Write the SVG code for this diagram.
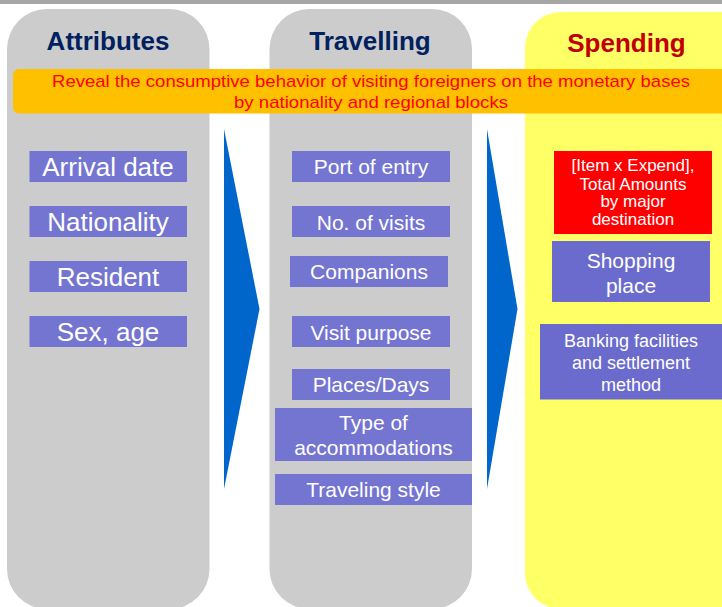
<svg xmlns="http://www.w3.org/2000/svg" width="722" height="607" viewBox="0 0 722 607">
<style>
.col{fill:#CCCCCC}
.title{font-family:"Liberation Sans",Arial,sans-serif;font-weight:bold;font-size:26px;text-anchor:middle}
.box{fill:#7474D1}
.box2{fill:#6B6BCD}
.t26{font-family:"Liberation Sans",Arial,sans-serif;font-size:26px;fill:#FFFFFF;text-anchor:middle}
.t21{font-family:"Liberation Sans",Arial,sans-serif;font-size:21px;fill:#FFFFFF;text-anchor:middle}
.t18{font-family:"Liberation Sans",Arial,sans-serif;font-size:18px;fill:#FFFFFF;text-anchor:middle}
.t17{font-family:"Liberation Sans",Arial,sans-serif;font-size:17px;fill:#FFFFFF;text-anchor:middle}
.arrow{fill:#0066CC}
</style>
<rect x="0" y="0" width="722" height="607" fill="#FFFFFF"/>
<rect x="0" y="0" width="722" height="4" fill="#A6A6A6"/>
<g id="col-attributes">
<rect class="col" x="7" y="9" width="202.5" height="600" rx="40" ry="40"/>
<text class="title" x="108" y="50" fill="#002060">Attributes</text>
</g>
<g id="col-travelling">
<rect class="col" x="269.5" y="9" width="202.5" height="600" rx="40" ry="40"/>
<text class="title" x="370" y="50" fill="#002060">Travelling</text>
</g>
<g id="col-spending">
<rect x="525" y="12" width="240" height="597" rx="36" ry="36" fill="#FFFF66"/>
<text class="title" x="626.5" y="52" fill="#C00000">Spending</text>
</g>
<g id="connectors">
<polygon class="arrow" points="224,129 259.5,309 224,489"/>
<polygon class="arrow" points="487,129 517.5,309 487,489"/>
</g>
<g id="banner">
<rect x="13" y="69" width="720" height="44.5" rx="6" ry="6" fill="#FFC000"/>
<text x="371" y="87" font-family="'Liberation Sans',Arial,sans-serif" font-size="17" fill="#FF0000" text-anchor="middle" textLength="638" lengthAdjust="spacingAndGlyphs">Reveal the consumptive behavior of visiting foreigners on the monetary bases</text>
<text x="371" y="108" font-family="'Liberation Sans',Arial,sans-serif" font-size="17" fill="#FF0000" text-anchor="middle" textLength="274" lengthAdjust="spacingAndGlyphs">by nationality and regional blocks</text>
</g>
<g id="arrival-date"><rect class="box" x="29.5" y="151" width="157.5" height="31"/><text class="t26" x="108" y="176">Arrival date</text></g>
<g id="nationality"><rect class="box" x="29.5" y="206" width="157.5" height="31"/><text class="t26" x="108" y="231">Nationality</text></g>
<g id="resident"><rect class="box" x="29.5" y="261" width="157.5" height="31"/><text class="t26" x="108" y="286">Resident</text></g>
<g id="sex-age"><rect class="box" x="29.5" y="316" width="157.5" height="31"/><text class="t26" x="108" y="341">Sex, age</text></g>
<g id="port-of-entry"><rect class="box" x="292" y="151" width="158" height="31"/><text class="t21" x="371" y="174">Port of entry</text></g>
<g id="no-of-visits"><rect class="box" x="292" y="206" width="158" height="31"/><text class="t21" x="371" y="229.5">No. of visits</text></g>
<g id="companions"><rect class="box" x="290" y="256" width="158" height="31"/><text class="t21" x="369" y="279">Companions</text></g>
<g id="visit-purpose"><rect class="box" x="292" y="316" width="158" height="31"/><text class="t21" x="371" y="339.5">Visit purpose</text></g>
<g id="places-days"><rect class="box" x="292" y="369" width="158" height="31"/><text class="t21" x="371" y="392">Places/Days</text></g>
<g id="type-of-accommodations"><rect class="box" x="275" y="408" width="197" height="53"/><text class="t21" x="373.5" y="430">Type of</text><text class="t21" x="373.5" y="454.5">accommodations</text></g>
<g id="traveling-style"><rect class="box" x="275" y="474" width="197" height="31"/><text class="t21" x="373.5" y="497">Traveling style</text></g>
<g id="item-expend"><rect x="554" y="151" width="158" height="83" fill="#FF0000"/><text class="t17" x="633" y="171">[Item x Expend],</text><text class="t17" x="633" y="189.5">Total Amounts</text><text class="t17" x="633" y="207">by major</text><text class="t17" x="633" y="224.5">destination</text></g>
<g id="shopping-place"><rect class="box2" x="552" y="241" width="158" height="61"/><text class="t21" x="631" y="267.5">Shopping</text><text class="t21" x="631" y="292.5">place</text></g>
<g id="banking"><rect class="box2" x="540" y="324" width="182" height="75.5"/><text class="t18" x="631" y="347">Banking facilities</text><text class="t18" x="631" y="369">and settlement</text><text class="t18" x="631" y="391">method</text></g>
</svg>
